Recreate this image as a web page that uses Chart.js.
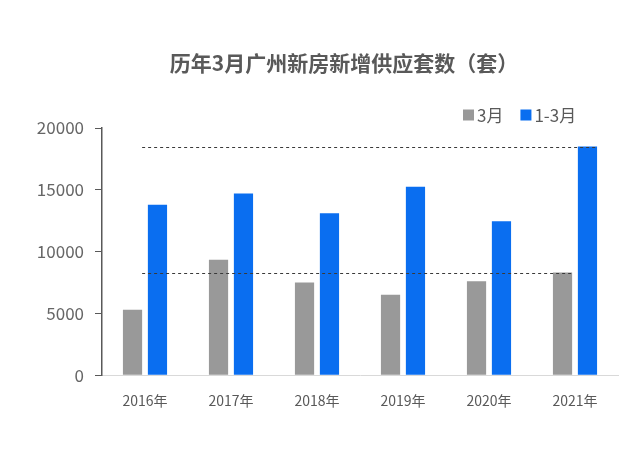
<!DOCTYPE html>
<html>
<head>
<meta charset="utf-8">
<script src="https://cdn.jsdelivr.net/npm/chart.js@4"></script>
<style>
    html, body { margin: 0; padding: 0; background: #fff; }
    #wrap { width: 640px; height: 452px; }
</style>
</head>
<body>
<div id="wrap"><canvas id="supply_chart"></canvas></div>
<script>
// Data
var years = ['2016年', '2017年', '2018年', '2019年', '2020年', '2021年'];
var marchSupply = [5300, 9350, 7500, 6500, 7600, 8300];
var q1Supply = [13800, 14700, 13100, 15250, 12450, 18500];
var seriesNames = ['3月', '1-3月'];
var yTicks = [0, 5000, 10000, 15000, 20000];
var chartTitle = '历年3月广州新房新增供应套数（套）';

var chartColors = {
    grey: '#999999',
    blue: '#0a6ef0',
    text: '#595959',
    axis: '#595959',
    baseline: '#d9d9d9'
};
var fontFamily = '"Noto Sans CJK SC", "Noto Sans", sans-serif';

// dashed reference lines at the 2021 level of each series
var refLinesPlugin = {
    id: 'refLines',
    afterDatasetsDraw: function (chart) {
        var ctx = chart.ctx;
        var y = chart.scales.y;
        var grey = chart.getDatasetMeta(0).data;
        var blue = chart.getDatasetMeta(1).data;
        var last = grey.length - 1;
        var x0 = grey[0].x + grey[0].width / 2;
        var lines = [
            { value: q1Supply[last], x1: blue[last].x + blue[last].width / 2 },
            { value: marchSupply[last], x1: grey[last].x + grey[last].width / 2 }
        ];
        ctx.save();
        ctx.strokeStyle = '#3a3a3a';
        ctx.lineWidth = 1;
        ctx.setLineDash([3, 3]);
        lines.forEach(function (l) {
            var py = Math.round(y.getPixelForValue(l.value)) + 0.5;
            ctx.beginPath();
            ctx.moveTo(x0, py);
            ctx.lineTo(l.x1, py);
            ctx.stroke();
        });
        ctx.restore();
    }
};

// title + legend drawn by hand (title is off-centre, legend hugs the plot)
var headerPlugin = {
    id: 'header',
    afterDraw: function (chart) {
        var ctx = chart.ctx;
        ctx.save();
        ctx.fillStyle = chartColors.text;
        ctx.font = 'bold 21px ' + fontFamily;
        ctx.textAlign = 'center';
        ctx.textBaseline = 'middle';
        ctx.fillText(chartTitle, 344, 63);

        var x = 463, cy = 115, box = 11;
        ctx.font = '17px ' + fontFamily;
        ctx.textAlign = 'left';
        chart.data.datasets.forEach(function (ds) {
            ctx.fillStyle = ds.backgroundColor;
            ctx.fillRect(x, cy - box / 2, box, box);
            x += box + 3;
            ctx.fillStyle = chartColors.text;
            ctx.fillText(ds.label, x, cy + 1);
            x += ctx.measureText(ds.label).width + 17;
        });
        ctx.restore();
    }
};

var ctx = document.getElementById('supply_chart').getContext('2d');
new Chart(ctx, {
    type: 'bar',
    data: {
        labels: years,
        datasets: [{
            label: seriesNames[0],
            data: marchSupply,
            backgroundColor: chartColors.grey
        }, {
            label: seriesNames[1],
            data: q1Supply,
            backgroundColor: chartColors.blue
        }]
    },
    options: {
        responsive: true,
        maintainAspectRatio: false,
        animation: false,
        layout: { padding: { left: 0, right: 22, top: 128, bottom: 26 } },
        datasets: {
            bar: { categoryPercentage: 0.58, barPercentage: 0.77 }
        },
        plugins: {
            legend: { display: false },
            tooltip: { enabled: false },
            title: { display: false }
        },
        scales: {
            x: {
                grid: { display: false, drawTicks: false },
                border: { display: true, color: chartColors.baseline, width: 1 },
                ticks: {
                    color: chartColors.text,
                    font: { family: fontFamily, size: 14 },
                    padding: 17
                }
            },
            y: {
                min: 0,
                max: yTicks[yTicks.length - 1],
                afterFit: function (scale) { scale.width = 102; },
                afterBuildTicks: function (scale) {
                    scale.ticks = yTicks.map(function (v) { return { value: v }; });
                },
                grid: { drawOnChartArea: false, drawTicks: true, tickLength: 7, color: chartColors.axis },
                border: { display: true, color: chartColors.axis, width: 1.5 },
                ticks: {
                    color: '#666666',
                    font: { family: fontFamily, size: 17 },
                    padding: 11,
                    callback: function (v) { return v; }
                }
            }
        }
    },
    plugins: [refLinesPlugin, headerPlugin]
});
</script>
</body>
</html>
